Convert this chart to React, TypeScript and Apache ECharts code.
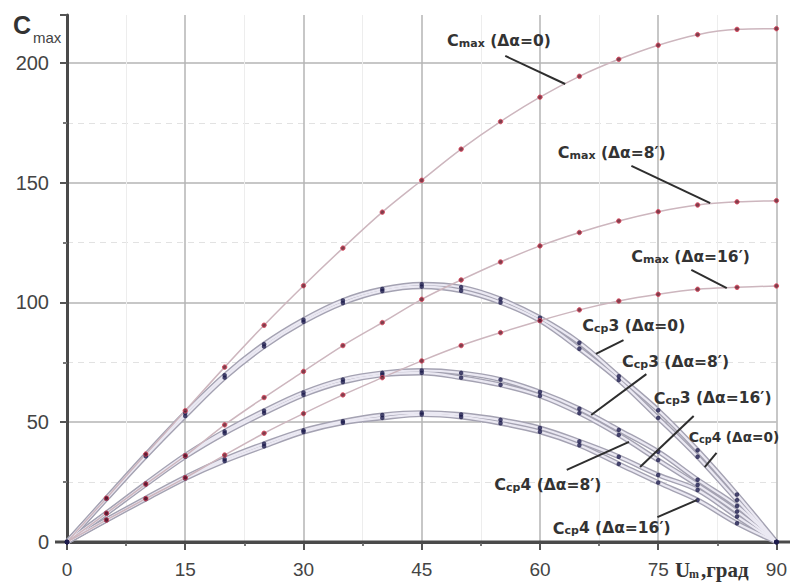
import React, { useEffect, useRef } from "react";
import * as echarts from "echarts";

// Angle U_m, degrees
const angles = [0, 5, 10, 15, 20, 25, 30, 35, 40, 45, 50, 55, 60, 65, 70, 75, 80, 85, 90];

// C_max for three misalignments
const cmax0 = [0, 18.3, 36.7, 54.8, 73, 90.5, 107, 122.7, 137.7, 151, 164, 175.5, 185.7, 194.4, 201.5, 207.4, 211.8, 214, 214.3];
const cmax8 = [0, 12, 24.2, 36, 48.9, 60.3, 71.2, 82, 91.6, 101.3, 109.4, 116.9, 123.6, 129.2, 134, 137.9, 140.7, 142, 142.5];
const cmax16 = [0, 9.2, 18.1, 26.8, 36.3, 45.4, 53.6, 61.4, 68.6, 75.6, 82, 87.4, 92.4, 96.9, 100.6, 103.4, 105.5, 106.3, 106.9];

// C_cp3 / C_cp4 for three misalignments
const ccp3_0 = [0, 18.3, 36.4, 53.8, 69.6, 82.6, 92.8, 100.8, 105.6, 107.6, 106.4, 101.4, 93.6, 83.2, 69.2, 55, 38.3, 19.8, 0];
const ccp4_0 = [0, 18.0, 35.8, 52.6, 68.6, 81.6, 91.9, 99.8, 104.8, 106.6, 104.9, 100, 92.4, 80.7, 67.6, 51.8, 35.6, 17.5, 0];
const ccp3_8 = [0, 12.1, 24.4, 36.2, 46.2, 54.8, 62.4, 67.8, 70.6, 71.6, 70.6, 67.8, 62.6, 55.6, 46.8, 37.7, 26, 15, 0];
const ccp4_8 = [0, 11.9, 24.0, 35.6, 45.4, 53.8, 61.4, 66.8, 69.8, 70.6, 68.6, 65.6, 61.0, 53.8, 44.7, 34.2, 23.8, 12.7, 0];
const ccp3_16 = [0, 9.3, 18.3, 27.0, 34.6, 41.0, 46.6, 50.4, 53.0, 54.0, 53.2, 51.0, 47.6, 42.0, 35.6, 28.0, 21.7, 10.6, 0];
const ccp4_16 = [0, 9.1, 17.9, 26.5, 33.8, 40.0, 45.9, 49.8, 51.8, 53.2, 52.2, 49.6, 46.0, 40.4, 32.6, 24.8, 17.5, 7.8, 0];

// Axis ticks
const xMin = 0, xMax = 90, xStep = 15;
const yMin = 0, yMax = 220, yStep = 50;

// Callout labels: text pieces, label centre and leader line, in data units
const callouts = [
  { sym: "max", tail: " (Δα=0)", at: [54.8, 209.2], from: [55.6, 202.9], to: [63.2, 191.2] },
  { sym: "max", tail: " (Δα=8′)", at: [69.1, 162.4], from: [71.6, 157], to: [81.6, 141.5] },
  { sym: "max", tail: " (Δα=16′)", at: [79.1, 119], from: [79.2, 113.6], to: [83.7, 106] },
  { sym: "cp", tail: "3 (Δα=0)", at: [71.9, 90.2], from: [70.6, 84.3], to: [67.1, 78.5] },
  { sym: "cp", tail: "3 (Δα=8′)", at: [77.2, 75.2], from: [73.5, 70.1], to: [66.5, 53] },
  { sym: "cp", tail: "3 (Δα=16′)", at: [81.9, 60.1], from: [79.5, 52.6], to: [72.7, 31.3] },
  { sym: "cp", tail: "4 (Δα=0)", at: [84.6, 43.8], from: [82.4, 37.2], to: [80.9, 31.3], small: true },
  { sym: "cp", tail: "4 (Δα=8′)", at: [61, 23.8], from: [63.4, 30.1], to: [71.3, 41.8] },
  { sym: "cp", tail: "4 (Δα=16′)", at: [69.1, 5.8], from: [74.9, 10.4], to: [79.9, 17.5] },
];

const pairs = (vals: number[]) => angles.map((a, i) => [a, vals[i]]);

const SMOOTH = 0.35;

const tubeOuter = (vals: number[]) => ({
  type: "line", data: pairs(vals), smooth: SMOOTH, showSymbol: false, silent: true, z: 2,
  lineStyle: { color: "#a4a2b2", width: 5 },
});
const tubeInner = (vals: number[]) => ({
  type: "line", data: pairs(vals), smooth: SMOOTH, showSymbol: false, silent: true, z: 3,
  lineStyle: { color: "#ebe9f3", width: 2.2 },
});
const ccpDots = (vals: number[]) => ({
  type: "scatter", data: pairs(vals), symbol: "circle", symbolSize: 4.5, z: 6, silent: true,
  itemStyle: { color: "#1d1c4c" },
});
const cmaxLine = (vals: number[]) => ({
  type: "line", data: pairs(vals), smooth: SMOOTH, showSymbol: false, silent: true, z: 4,
  lineStyle: { color: "#cdb6be", width: 1.5 },
});
const cmaxDots = (vals: number[]) => ({
  type: "scatter", data: pairs(vals).slice(1), symbol: "circle", symbolSize: 4.5, z: 7, silent: true,
  itemStyle: { color: "#6a1c2c", borderColor: "#e2455c", borderWidth: 1 },
});

export default function App() {
  const ref = useRef<HTMLDivElement>(null);

  useEffect(() => {
    if (!ref.current) return;
    const chart = echarts.init(ref.current, undefined, { renderer: "svg" });
    const ccp = [ccp3_0, ccp4_0, ccp3_8, ccp4_8, ccp3_16, ccp4_16];
    const cmax = [cmax0, cmax8, cmax16];
    const sans = "Liberation Sans, Arial, sans-serif";

    const option: any = {
      animation: false,
      backgroundColor: "#ffffff",
      grid: { left: 67, right: 12, top: 15, bottom: 40 },
      xAxis: {
        type: "value", min: xMin, max: xMax, interval: xStep,
        axisLine: { lineStyle: { color: "#4a4a4a", width: 3 } },
        axisTick: { length: 8, lineStyle: { color: "#555", width: 2 } },
        minorTick: { show: true, splitNumber: 2, length: 4, lineStyle: { color: "#777", width: 2 } },
        splitLine: { show: true, lineStyle: { color: "#b4b4b4", width: 1.5 } },
        minorSplitLine: { show: true, lineStyle: { color: "#ededed", width: 1 } },
        axisLabel: { fontSize: 19, color: "#444", margin: 18, fontFamily: sans },
      },
      yAxis: {
        type: "value", min: yMin, max: yMax, interval: yStep,
        axisLine: { show: true, lineStyle: { color: "#4a4a4a", width: 3 } },
        axisTick: { show: true, length: 7, lineStyle: { color: "#555", width: 2 } },
        minorTick: { show: true, splitNumber: 2, length: 4, lineStyle: { color: "#777", width: 2 } },
        splitLine: { show: true, showMaxLine: false, lineStyle: { color: "#b4b4b4", width: 1.5 } },
        minorSplitLine: { show: true, lineStyle: { color: "#e2e2e2", width: 1, type: [6, 5] } },
        axisLabel: { fontSize: 20, color: "#444", margin: 18, showMaxLabel: false, fontFamily: sans },
      },
      series: [
        ...ccp.map(tubeOuter),
        ...ccp.map(tubeInner),
        ...cmax.map(cmaxLine),
        ...ccp.map(ccpDots),
        ...cmax.map(cmaxDots),
      ],
    };
    chart.setOption(option);

    const px = (p: number[]) => chart.convertToPixel({ gridIndex: 0 }, p) as number[];
    const font = "'DejaVu Sans', 'Noto Sans', sans-serif";
    const graphics: any[] = [];

    callouts.forEach((c) => {
      const a = px(c.from), b = px(c.to), t = px(c.at);
      const s = c.small ? 0.88 : 1;
      graphics.push({
        type: "line", silent: true, z: 20,
        shape: { x1: a[0], y1: a[1], x2: b[0], y2: b[1] },
        style: { stroke: "#2e2e2e", lineWidth: 2 },
      });
      graphics.push({
        type: "text", silent: true, z: 21, x: t[0], y: t[1],
        style: {
          text: `{c|C}{s|${c.sym}}{t|${c.tail}}`,
          align: "center", verticalAlign: "middle",
          rich: {
            c: { fontSize: 16 * s, fontWeight: "bold", fontFamily: font, fill: "#333", verticalAlign: "bottom" },
            s: { fontSize: 11 * s, fontWeight: "bold", fontFamily: font, fill: "#333", verticalAlign: "bottom" },
            t: { fontSize: 15.5 * s, fontWeight: "bold", fontFamily: font, fill: "#333", verticalAlign: "bottom" },
          },
        },
      });
    });

    // Axis titles
    graphics.push({
      type: "text", silent: true, x: 13, y: 12,
      style: { text: "C", fontSize: 25, fontWeight: "bold", fontFamily: sans, fill: "#333" },
    });
    graphics.push({
      type: "text", silent: true, x: 33, y: 30,
      style: { text: "max", fontSize: 15, fontFamily: sans, fill: "#444" },
    });
    const o = px([xMin, yMin]);
    graphics.push({
      type: "line", silent: true, z: 1,
      shape: { x1: o[0] - 12, y1: o[1], x2: 790, y2: o[1] },
      style: { stroke: "#4a4a4a", lineWidth: 3 },
    });
    graphics.push({
      type: "text", silent: true, x: 675, y: 559,
      style: { text: "U", fontSize: 21, fontWeight: "bold", fontFamily: "Liberation Serif, serif", fill: "#333" },
    });
    graphics.push({
      type: "text", silent: true, x: 689, y: 568,
      style: { text: "m", fontSize: 12, fontWeight: "bold", fontFamily: "Liberation Serif, serif", fill: "#333" },
    });
    graphics.push({
      type: "text", silent: true, x: 701, y: 559,
      style: { text: ",град", fontSize: 21, fontWeight: "bold", fontFamily: "Liberation Serif, serif", fill: "#333" },
    });

    chart.setOption({ graphic: graphics });
    return () => chart.dispose();
  }, []);

  return (
    <div
      ref={ref}
      style={{ position: "fixed", left: 0, top: 0, width: 790, height: 582, background: "#fff" }}
    />
  );
}
